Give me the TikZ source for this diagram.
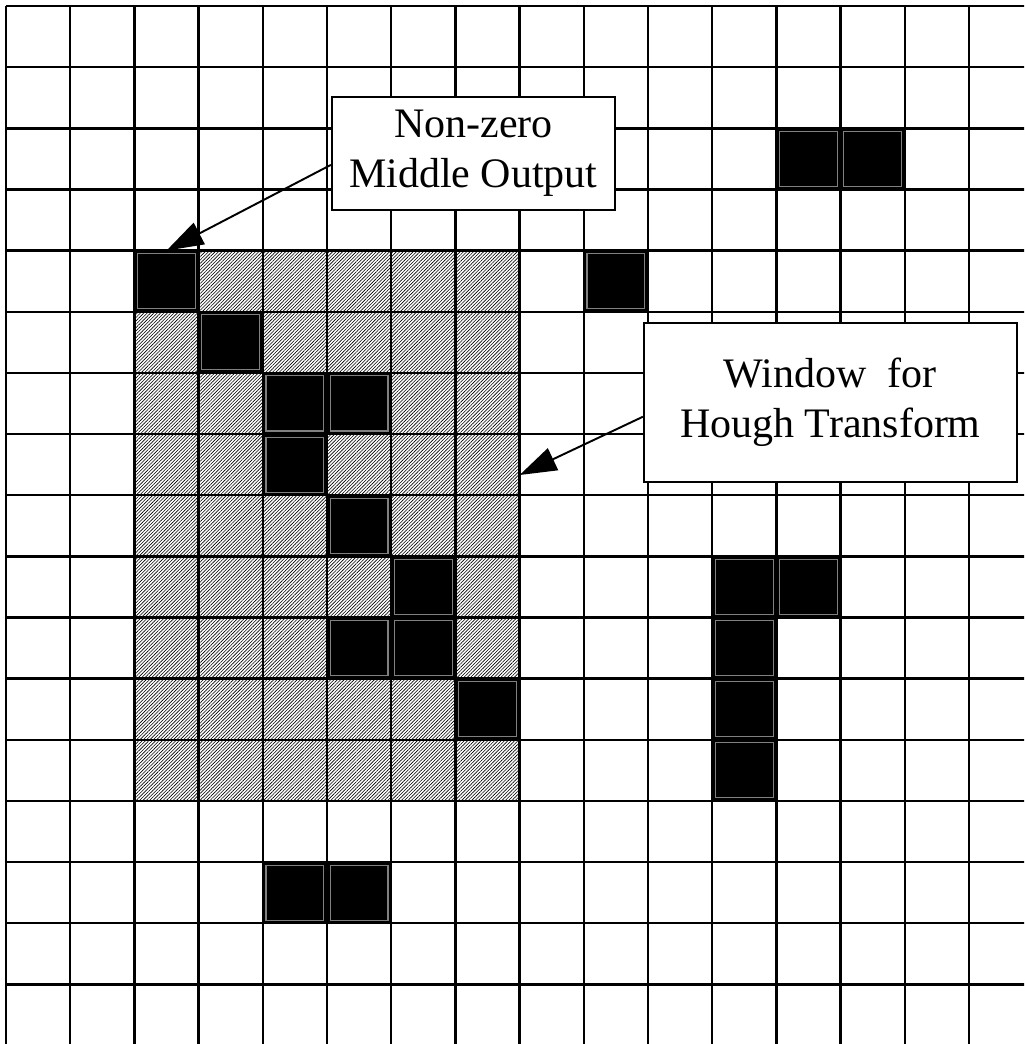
\documentclass[tikz,border=0pt]{standalone}
\usepackage{fontspec}
\setmainfont{Liberation Serif}
\usetikzlibrary{arrows.meta, patterns.meta}

\begin{document}
\begin{tikzpicture}[
    x=1.284cm, y=1.223cm,
    font=\fontsize{23.9}{28.5}\selectfont,
    gridline/.style={line width=1.4pt, draw=black},
    hatch/.style={pattern={Lines[angle=45, distance=1.35pt, line width=0.35pt]}},
    cellrim/.style={draw=gray, line width=0.6pt},
    callout/.style={rectangle, draw=black, line width=1.1pt, fill=white, align=center, inner sep=0pt},
    arrow/.style={-{Triangle[length=0.74cm, width=0.48cm]}, line width=1.1pt, draw=black}
  ]
    \path[use as bounding box, clip] (-0.12cm,0.12cm) rectangle (20.36cm,-20.76cm);

    % window for the transform
    \fill[hatch] (2,-4) rectangle (8,-13);
    \draw[gridline, step=1] (0,-17.5) grid (15.9,0);

    % non-zero cells
    \foreach \cx/\cy in {12/2, 13/2, 2/4, 9/4, 3/5, 4/6, 5/6, 4/7, 5/8, 6/9, 5/10, 6/10, 7/11,
                         11/9, 12/9, 11/10, 11/11, 11/12, 4/14, 5/14} {
      \fill (\cx,-\cy) rectangle ++(1,-1);
      \draw[cellrim] (\cx+0.05,-\cy-0.05) rectangle ++(0.9,-0.9);
    }

    \node[callout, minimum width=5.66cm, minimum height=2.26cm] (nzbox) at (7.28,-2.41) {Non-zero\\Middle Output};
    \node[callout, minimum width=7.46cm, minimum height=3.18cm] (winbox) at (12.84,-6.48) {Window\ \ for\\Hough Transform};

    \coordinate (nzcell) at (2.5,-4);
    \coordinate (winedge) at (8,-7.67);

    \draw[arrow] ([yshift=-0.23cm]nzbox.west) -- (nzcell);
    \draw[arrow] ([yshift=-0.29cm]winbox.west) -- (winedge);
\end{tikzpicture}
\end{document}
